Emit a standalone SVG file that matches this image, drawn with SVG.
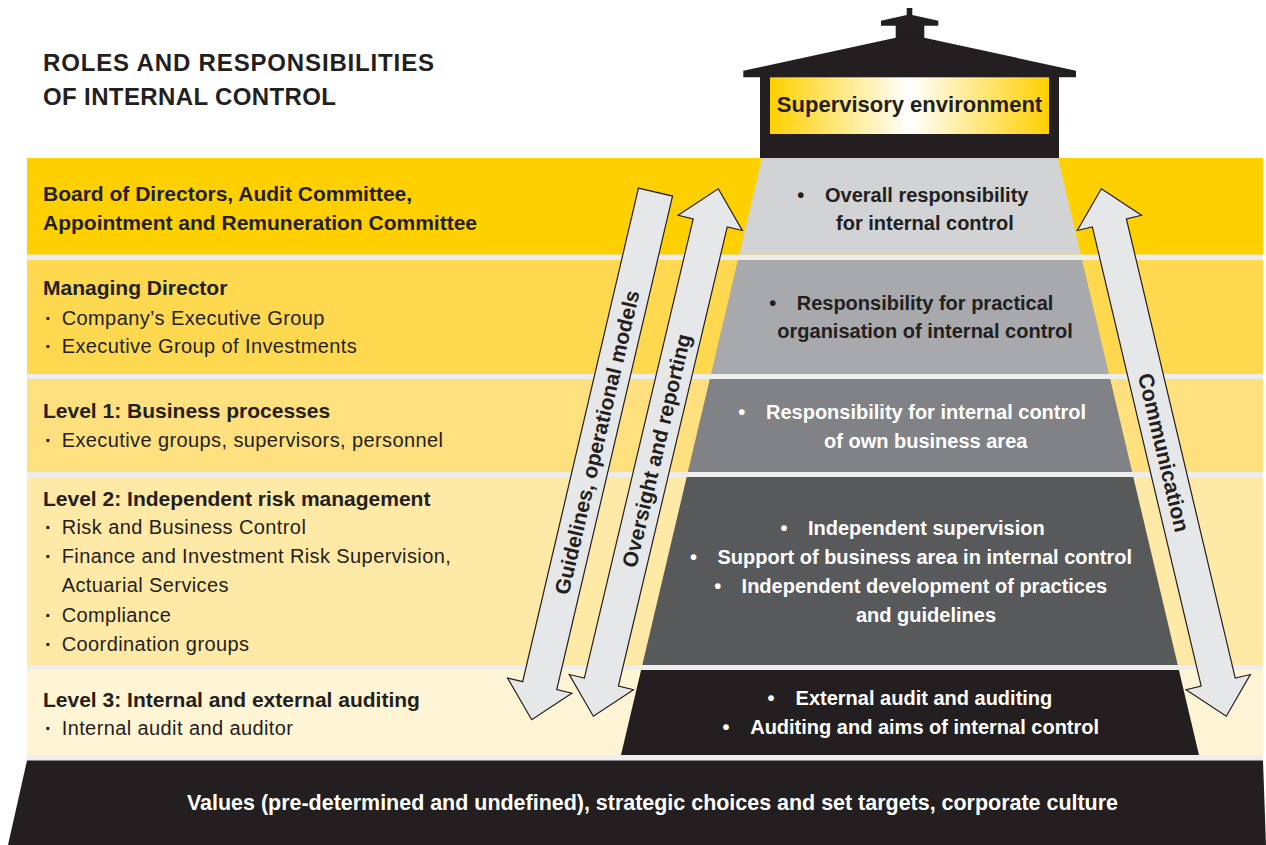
<svg xmlns="http://www.w3.org/2000/svg" width="1266" height="845" viewBox="0 0 1266 845">
  <defs>
    <linearGradient id="supGrad" x1="0" y1="0" x2="1" y2="0">
      <stop offset="0" stop-color="#FFD000"/>
      <stop offset="0.5" stop-color="#FFFFFF"/>
      <stop offset="1" stop-color="#FFD000"/>
    </linearGradient>
    <style>
      .title { font-family: "Liberation Sans", Arial, sans-serif; font-weight: bold; font-size: 24px; fill: #231F20; }
      .head { font-family: "Liberation Sans", Arial, sans-serif; font-weight: bold; font-size: 21px; fill: #231F20; }
      .item { font-family: "Liberation Sans", Arial, sans-serif; font-size: 20px; letter-spacing: 0.4px; fill: #231F20; }
      .dot { font-weight: bold; }
      .pyr { font-family: "Liberation Sans", Arial, sans-serif; font-weight: bold; font-size: 20px; }
      .dark { fill: #231F20; }
      .light { fill: #FFFFFF; }
      .arrow { fill: #E6E7E8; stroke: #231F20; stroke-width: 1.2; stroke-linejoin: miter; }
      .arrowtext { font-family: "Liberation Sans", Arial, sans-serif; font-weight: bold; font-size: 21px; fill: #231F20; text-anchor: middle; }
      .ink { fill: #231F20; }
    </style>
  </defs>

  <rect width="1266" height="845" fill="#FFFFFF"/>

  <!-- title -->
  <g id="title">
    <text class="title" x="43" y="70.7" textLength="391" lengthAdjust="spacing">ROLES AND RESPONSIBILITIES</text>
    <text class="title" x="43" y="105" textLength="293" lengthAdjust="spacing">OF INTERNAL CONTROL</text>
  </g>

  <!-- light separator strip behind the bands -->
  <rect x="27" y="158" width="1236" height="603" fill="#EDEDED"/>

  <!-- supervisory house on top of the pyramid -->
  <g id="supervisory-environment">
    <rect x="906.7" y="8" width="5.6" height="8" class="ink"/>
    <polygon class="ink" points="881,20.7 906.7,15 912.3,15 938.3,20.7 938.3,25.7 881,25.7"/>
    <rect x="895.7" y="25" width="28.6" height="14" class="ink"/>
    <polygon class="ink" points="743.3,77.3 743.3,70.7 895.7,37.7 924.3,37.7 1076,70.7 1076,77.3"/>
    <rect x="760" y="77" width="299" height="81.5" class="ink"/>
    <rect x="770" y="77.3" width="279" height="56.7" fill="url(#supGrad)"/>
    <text class="head" x="909.5" y="112" text-anchor="middle" style="font-size:22px">Supervisory environment</text>
  </g>

  <!-- band: board level -->
  <g id="board">
    <rect x="27" y="158" width="1236" height="96.5" fill="#FFD000"/>
    <polygon points="762,158 1058,158 1080.8,254.5 739.2,254.5" fill="#D1D3D4"/>
    <text class="head" x="43" y="201.3">Board of Directors, Audit Committee,</text>
    <text class="head" x="43" y="230">Appointment and Remuneration Committee</text>
    <text class="pyr dark" y="201.7"><tspan x="797.2">•</tspan><tspan x="825">Overall responsibility</tspan></text>
    <text class="pyr dark" x="836" y="230">for internal control</text>
  </g>

  <!-- band: managing director -->
  <g id="managing-director">
    <rect x="27" y="260" width="1236" height="114" fill="#FED84F"/>
    <polygon points="737.9,260 1082.1,260 1109,374 711,374" fill="#A7A9AC"/>
    <text class="head" x="43" y="295">Managing Director</text>
    <text class="item" y="325"><tspan class="dot" x="45">·</tspan><tspan x="61.7">Company’s Executive Group</tspan></text>
    <text class="item" y="353.3"><tspan class="dot" x="45">·</tspan><tspan x="61.7">Executive Group of Investments</tspan></text>
    <text class="pyr dark" y="310"><tspan x="769.2">•</tspan><tspan x="796.7">Responsibility for practical</tspan></text>
    <text class="pyr dark" x="777.3" y="338.3">organisation of internal control</text>
  </g>

  <!-- band: level 1 -->
  <g id="level-1">
    <rect x="27" y="379" width="1236" height="93" fill="#FFE07E"/>
    <polygon points="709.8,379 1110.2,379 1132.2,472 687.8,472" fill="#808285"/>
    <text class="head" x="43" y="418.3">Level 1: Business processes</text>
    <text class="item" y="446.7"><tspan class="dot" x="45">·</tspan><tspan x="61.7">Executive groups, supervisors, personnel</tspan></text>
    <text class="pyr light" y="419.3"><tspan x="738.2">•</tspan><tspan x="766">Responsibility for internal control</tspan></text>
    <text class="pyr light" x="824" y="447.7">of own business area</text>
  </g>

  <!-- band: level 2 -->
  <g id="level-2">
    <rect x="27" y="477" width="1236" height="188" fill="#FFE9A6"/>
    <polygon points="686.7,477 1133.3,477 1177.8,665 642.3,665" fill="#58595B"/>
    <text class="head" x="43" y="505.7">Level 2: Independent risk management</text>
    <text class="item" y="534.3"><tspan class="dot" x="45">·</tspan><tspan x="61.7">Risk and Business Control</tspan></text>
    <text class="item" y="563.3"><tspan class="dot" x="45">·</tspan><tspan x="61.7">Finance and Investment Risk Supervision,</tspan></text>
    <text class="item" x="61.7" y="592.3">Actuarial Services</text>
    <text class="item" y="621.7"><tspan class="dot" x="45">·</tspan><tspan x="61.7">Compliance</tspan></text>
    <text class="item" y="650.7"><tspan class="dot" x="45">·</tspan><tspan x="61.7">Coordination groups</tspan></text>
    <text class="pyr light" y="535"><tspan x="780.4">•</tspan><tspan x="808">Independent supervision</tspan></text>
    <text class="pyr light" y="564"><tspan x="689.9">•</tspan><tspan x="717.5">Support of business area in internal control</tspan></text>
    <text class="pyr light" y="593.3"><tspan x="714.3">•</tspan><tspan x="741.6">Independent development of practices</tspan></text>
    <text class="pyr light" x="856" y="622.3">and guidelines</text>
  </g>

  <!-- band: level 3 -->
  <g id="level-3">
    <rect x="27" y="670" width="1236" height="85" fill="#FFF4D3"/>
    <polygon points="641.1,670 1178.9,670 1199,755 621,755" fill="#231F20"/>
    <text class="head" x="43" y="706.5">Level 3: Internal and external auditing</text>
    <text class="item" y="735"><tspan class="dot" x="45">·</tspan><tspan x="61.7">Internal audit and auditor</tspan></text>
    <text class="pyr light" y="705"><tspan x="767.4">•</tspan><tspan x="795.6">External audit and auditing</tspan></text>
    <text class="pyr light" y="734.3"><tspan x="722.5">•</tspan><tspan x="750.2">Auditing and aims of internal control</tspan></text>
  </g>

  <!-- foundation -->
  <g id="foundation">
    <polygon points="27,760.5 1263,760.5 1266,845 8,845" fill="#231F20"/>
    <text class="pyr light" x="652.5" y="810" text-anchor="middle" style="font-size:21.5px" textLength="931" lengthAdjust="spacingAndGlyphs">Values (pre-determined and undefined), strategic choices and set targets, corporate culture</text>
  </g>

  <!-- connectors: the three flow arrows -->
  <g id="connectors">
    <g id="arrow-guidelines" transform="translate(593.6,455.9) rotate(13.2)">
      <polygon class="arrow" points="-17.5,-271 17.5,-271 17.5,236 33,236 0,271 -33,236 -17.5,236"/>
      <text class="arrowtext" transform="translate(0,-14) rotate(-90)" y="7.5">Guidelines, operational models</text>
    </g>
    <g id="arrow-oversight" transform="translate(655.8,452.5) rotate(13.33)">
      <polygon class="arrow" points="0,-271 33,-236 17.5,-236 17.5,236 33,236 0,271 -33,236 -17.5,236 -17.5,-236 -33,-236"/>
      <text class="arrowtext" transform="translate(0,-2) rotate(-90)" y="7.5">Oversight and reporting</text>
    </g>
    <g id="arrow-communication" transform="translate(1163.8,452.5) rotate(-13.33)">
      <polygon class="arrow" points="0,-271 33,-236 17.5,-236 17.5,236 33,236 0,271 -33,236 -17.5,236 -17.5,-236 -33,-236"/>
      <text class="arrowtext" transform="rotate(90)" y="7.5" style="font-size:21.5px">Communication</text>
    </g>
  </g>
</svg>
